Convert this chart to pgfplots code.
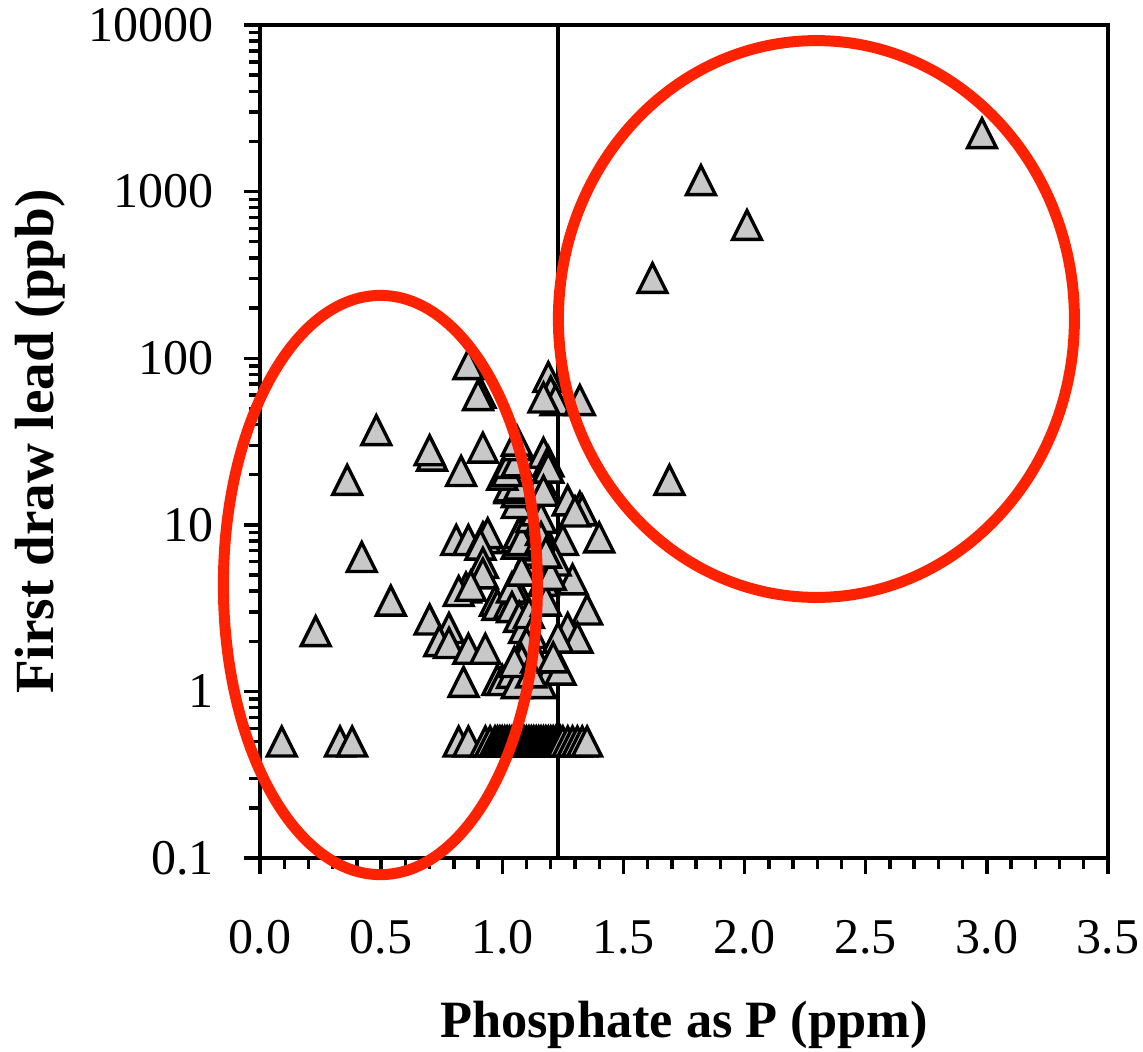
\documentclass[border=0pt]{standalone}
\usepackage{fontspec}
\setmainfont{Liberation Serif}
\usepackage{pgfplots}
\pgfplotsset{compat=1.18}
\definecolor{ringred}{HTML}{FF2200}
\definecolor{markgray}{HTML}{C8C8C8}

% triangle centred on its bounding box (as the spreadsheet draws it)
\pgfdeclareplotmark{xltri}{%
  \pgfpathmoveto{\pgfqpoint{0pt}{\pgfplotmarksize}}%
  \pgfpathlineto{\pgfqpoint{-\pgfplotmarksize}{-\pgfplotmarksize}}%
  \pgfpathlineto{\pgfqpoint{\pgfplotmarksize}{-\pgfplotmarksize}}%
  \pgfpathclose
  \pgfusepathqfillstroke}

\begin{document}
\begin{tikzpicture}
\begin{axis}[
  name=ax,
  scale only axis,
  width=212pt, height=208.25pt,
  xmin=0, xmax=3.5,
  ymode=log, ymin=0.1, ymax=10000,
  axis line style={line width=0.9pt},
  every tick/.style={black, line width=0.85pt},
  tick align=outside, tick pos=left,
  major tick length=4pt, minor tick length=2.8pt,
  xtick={0,0.5,1,1.5,2,2.5,3,3.5},
  xticklabels={0.0,0.5,1.0,1.5,2.0,2.5,3.0,3.5},
  minor x tick num=4,
  ytick={0.1,1,10,100,1000,10000},
  yticklabels={0.1,1,10,100,1000,10000},
  ticklabel style={font=\fontsize{12.5}{15}\selectfont},
  xticklabel style={yshift=-8pt},
  yticklabel style={xshift=-4pt},
  xlabel={Phosphate as P (ppm)},
  ylabel={First draw lead (ppb)},
  xlabel style={font=\fontsize{13.1}{15}\selectfont\bfseries,
    at={(axis description cs:0.5,-0.2005)}, anchor=center},
  ylabel style={font=\fontsize{13.8}{15}\selectfont\bfseries,
    at={(axis description cs:-0.2594,0.5)}, anchor=center},
]

% reference line
\addplot[black, line width=0.95pt] coordinates {(1.23,0.1) (1.23,10000)};

\addplot[only marks, mark=xltri, mark size=3.6pt,
  mark options={fill=markgray, draw=black, line width=0.85pt}] table {
x y
0.09 0.5
0.33 0.5
0.38 0.5
0.23 2.3
0.42 6.4
0.54 3.5
0.36 18.6
0.48 37
0.71 26
0.70 28
0.83 21
0.70 2.7
0.78 2.4
0.74 2.0
0.78 1.95
0.86 1.8
0.93 1.8
0.84 1.14
0.98 1.17
1.00 1.17
0.82 0.5
0.86 0.5
0.86 92
0.91 62
0.90 60
0.92 29
0.81 8.1
0.86 8.1
0.92 8.4
0.93 8.3
0.94 8.9
0.91 7.6
0.92 5.9
0.92 5.1
0.85 4.2
0.82 4.0
0.87 4.3
0.97 3.5
0.98 3.3
1.03 3.4
1.06 4.1
1.04 4.2
1.04 3.2
1.07 2.8
1.09 2.4
1.11 2.95
1.12 2.24
1.10 1.95
1.08 1.55
1.04 1.29
1.06 1.12
1.05 1.5
1.16 1.12
1.20 1.35
1.24 1.35
1.14 1.6
1.12 1.3
1.29 4.7
1.35 3.1
1.27 2.4
1.31 2.1
1.23 2.1
1.21 1.6
1.17 4.6
1.18 3.5
1.14 5.5
1.10 6.0
1.12 7.0
1.08 5.3
1.15 7.5
1.06 7.7
1.06 8.4
1.07 8.9
1.08 8.1
1.16 9.3
1.12 11.1
1.14 12.2
1.16 11
1.16 8.4
1.25 8.1
1.22 6.1
1.20 5.0
1.18 6.8
1.40 8.4
1.06 13.5
1.06 15.7
1.03 16.6
1.03 17
1.07 17.4
1.16 18.5
1.00 20
1.02 21
1.03 23.5
1.06 24
1.06 30
1.06 32
1.17 27
1.19 24
1.19 22
1.17 16
1.27 14
1.32 12.8
1.33 12.2
1.30 12
1.19 77
1.20 63
1.22 56
1.17 58
1.32 56
1.62 303
1.82 1170
2.01 630
1.69 18.6
2.98 2240
0.93 0.5
0.95 0.5
0.97 0.5
0.98 0.5
0.99 0.5
1.00 0.5
1.01 0.5
1.02 0.5
1.03 0.5
1.04 0.5
1.05 0.5
1.06 0.5
1.07 0.5
1.08 0.5
1.09 0.5
1.10 0.5
1.11 0.5
1.12 0.5
1.13 0.5
1.14 0.5
1.15 0.5
1.16 0.5
1.17 0.5
1.18 0.5
1.19 0.5
1.20 0.5
1.21 0.5
1.22 0.5
1.23 0.5
1.24 0.5
1.25 0.5
1.27 0.5
1.29 0.5
1.31 0.5
1.33 0.5
1.35 0.5
};
\end{axis}

% hand-drawn highlight rings
\draw[ringred, line width=2.75pt] (ax.south west) ++(30.1pt,68.25pt)
  ellipse [x radius=39.25pt, y radius=72.4pt];
\draw[ringred, line width=2.75pt] (ax.south west) ++(139.1pt,134.75pt)
  ellipse [x radius=64.5pt, y radius=69.6pt];

\pgfresetboundingbox
\useasboundingbox (ax.south west) ++(-65pt,-48.25pt) rectangle ++(285.75pt,262.75pt);
\end{tikzpicture}
\end{document}
